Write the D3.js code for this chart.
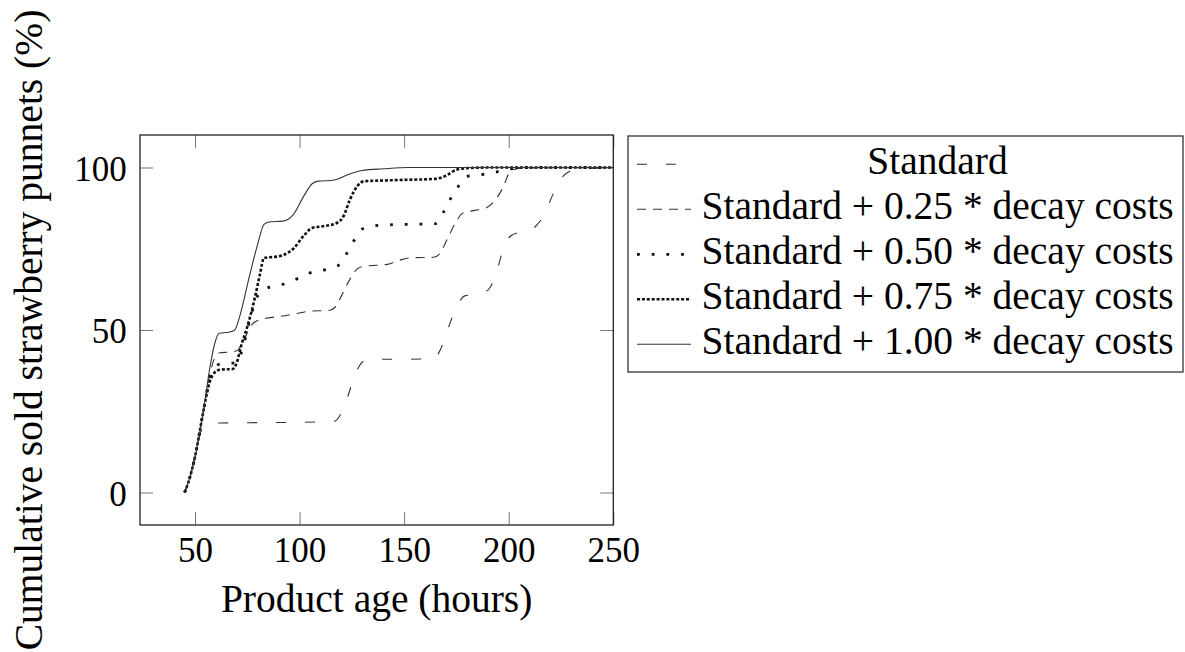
<!DOCTYPE html>
<html>
<head>
<meta charset="utf-8">
<script src="https://cdn.jsdelivr.net/npm/d3@7"></script>
<style>
  html, body { margin: 0; padding: 0; background: #fff; }
  svg { display: block; }
</style>
</head>
<body>
<svg id="chart" width="1185" height="652"></svg>
<script>
// ---------------- data (hours, cumulative %) ----------------
const standard = [
  [45,0],[47,3.5],[50,11],[53,19],[56,21],[62,21.4],[80,21.5],[100,21.6],[114,21.8],[117,22],[120,24.5],[123,29.5],
  [127,37],[131,40.5],[137,41],[150,41],[164,41.2],[167,43.5],[171,50.5],[175,57],[179,60.5],[185,61],[188,61.5],
  [191,63],[194,67.5],[197,74],[201,79],[205,80],[209,80.2],[213,82],[217,85.5],[221,91.5],[225,96.5],[229,98.8],
  [235,99.5],[250,100]
];
const decay025 = [
  [45,0],[47,3.5],[50,11],[54,25],[57,36],[59.5,41.5],[62,43],[66,43.2],[70,43.6],[73,46.5],[77,51.5],[81,53.2],
  [86,53.8],[91,54.2],[98,55],[105,55.8],[114,56],[117,57],[120,60.5],[124,65.5],[128,69],[132,69.7],[137,69.9],
  [142,70.2],[148,71.5],[153,72.2],[164,72.4],[167,73.5],[171,78.5],[175,83.5],[178,86],[184,86.8],[189,87.5],
  [193,89.5],[197,93.5],[201,99],[206,99.8],[250,100]
];
const decay050 = [
  [45,0],[47,3.5],[50,11],[54,25],[57,35],[59.5,38.5],[62,39.5],[70,40],[73,45],[77,55],[80,60.5],[86,63.3],
  [93,64.2],[99,65.8],[106,67.8],[112,68.5],[118,69.6],[122,73],[126,77.5],[130,81.1],[136,82.1],[150,82.5],
  [165,82.7],[169,86.5],[172,90.2],[176,94.3],[180,97.3],[187,97.8],[194,98.6],[200,99.5],[210,100],[250,100]
];
const decay075 = [
  [45,0],[47,3.5],[50,11],[54,25],[57,34],[59.5,37],[62,37.8],[68,38],[70,40],[72,45],[75,51],[79,61],[81,67],
  [83,72.2],[88,72.5],[92,73],[97,75],[102,79],[106,81.4],[112,82],[118,83],[121,85],[124,90],[127.5,94.2],
  [131,95.8],[140,96],[150,96.2],[165,96.5],[170,97.5],[175,99.3],[180,99.8],[190,100],[250,100]
];
const decay100 = [
  [45,0],[47,3.5],[50,11],[54,25],[57,38],[59.5,46],[61.5,49],[66,49.3],[69,50],[71.5,54.5],[76,66.5],[80,76.5],
  [83,82.5],[86,83.3],[92,83.5],[97,85.5],[102,91.2],[106,95],[109,95.8],[115,96],[118,96.4],[123,97.8],
  [130,99.1],[140,99.6],[152,100],[250,100]
];
const seriesLabels = [
  "Standard",
  "Standard + 0.25 * decay costs",
  "Standard + 0.50 * decay costs",
  "Standard + 0.75 * decay costs",
  "Standard + 1.00 * decay costs"
];
const xTicks = [50, 100, 150, 200, 250];
const yTicks = [0, 50, 100];
const xLabel = "Product age (hours)";
const yLabel = "Cumulative sold strawberry punnets (%)";

// ---------------- layout / styles ----------------
const plot = { left: 140, right: 613.3, top: 135, bottom: 525 };
const styles = [
  { width: 1.1, dash: "10,19", color: "#333" },
  { width: 1.1, dash: "9,7",   color: "#333" },
  { width: 2.8, dash: "2.8,11.9", color: "#111" },
  { width: 2.6, dash: "3,1.9", color: "#111" },
  { width: 1.1, dash: null,    color: "#333" }
];
const serif = "'Liberation Serif', 'Times New Roman', serif";

const svg = d3.select("#chart");
const x = d3.scaleLinear().domain([23.7, 250]).range([plot.left, plot.right]);
const y = d3.scaleLinear().domain([-10, 110]).range([plot.bottom, plot.top]);

// axes (inward ticks on all four sides)
const tickLen = 13;
const gB = svg.append("g").attr("transform", `translate(0,${plot.bottom})`)
  .call(d3.axisBottom(x).tickValues(xTicks).tickSize(-tickLen).tickSizeOuter(0).tickPadding(12));
const gT = svg.append("g").attr("transform", `translate(0,${plot.top})`)
  .call(d3.axisTop(x).tickValues(xTicks).tickSize(-tickLen).tickSizeOuter(0).tickFormat(""));
const gL = svg.append("g").attr("transform", `translate(${plot.left},0)`)
  .call(d3.axisLeft(y).tickValues(yTicks).tickSize(-tickLen).tickSizeOuter(0).tickPadding(13.3));
const gR = svg.append("g").attr("transform", `translate(${plot.right},0)`)
  .call(d3.axisRight(y).tickValues(yTicks).tickSize(-tickLen).tickSizeOuter(0).tickFormat(""));

[gB, gT, gL, gR].forEach(g => {
  g.select(".domain").remove();
  g.selectAll(".tick line").attr("stroke", "#777").attr("stroke-width", 1);
  g.selectAll(".tick text").attr("fill", "#000")
    .style("font-family", serif).style("font-size", "35px");
});
gL.selectAll(".tick text").attr("dy", "0.36em");

// series lines
const line = d3.line().x(d => x(d[0])).y(d => y(d[1])).curve(d3.curveMonotoneX);
const allSeries = [standard, decay025, decay050, decay075, decay100];
allSeries.forEach((s, i) => {
  const st = styles[i];
  const p = svg.append("path").datum(s)
    .attr("d", line)
    .attr("fill", "none")
    .attr("stroke", st.color)
    .attr("stroke-width", st.width)
    .attr("stroke-dasharray", st.dash)
    .attr("stroke-linejoin", "round");
  if (i === 0) {
    // align dash phase so a dash begins where the first plateau dash starts (x ≈ 61 h)
    const node = p.node();
    const total = node.getTotalLength();
    const targetX = x(61);
    let lo = 0, hi = total;
    for (let k = 0; k < 40; k++) {
      const mid = (lo + hi) / 2;
      if (node.getPointAtLength(mid).x < targetX) lo = mid; else hi = mid;
    }
    const period = 29;
    p.attr("stroke-dashoffset", (period - (lo % period)) % period);
  }
});

// frame
svg.append("rect")
  .attr("x", plot.left).attr("y", plot.top)
  .attr("width", plot.right - plot.left).attr("height", plot.bottom - plot.top)
  .attr("fill", "none").attr("stroke", "#222").attr("stroke-width", 1.3);

// axis labels
svg.append("text")
  .attr("x", (plot.left + plot.right) / 2).attr("y", 611.7)
  .attr("text-anchor", "middle")
  .style("font-family", serif).style("font-size", "39.5px")
  .text(xLabel);
svg.append("text")
  .attr("transform", `translate(42,330) rotate(-90)`)
  .attr("text-anchor", "middle")
  .style("font-family", serif).style("font-size", "39.5px")
  .text(yLabel);

// legend
const lg = { left: 628, top: 136, right: 1183, bottom: 372 };
svg.append("rect")
  .attr("x", lg.left).attr("y", lg.top)
  .attr("width", lg.right - lg.left).attr("height", lg.bottom - lg.top)
  .attr("fill", "#fff").attr("stroke", "#333").attr("stroke-width", 1.3);
const rowY = d3.scalePoint().domain(d3.range(seriesLabels.length)).range([164.3, 344.3]);
seriesLabels.forEach((lab, i) => {
  const st = styles[i];
  const cy = rowY(i);
  svg.append("line")
    .attr("x1", 637).attr("x2", 691).attr("y1", cy).attr("y2", cy)
    .attr("stroke", st.color).attr("stroke-width", st.width)
    .attr("stroke-dasharray", st.dash);
  svg.append("text")
    .attr("x", 937.5).attr("y", cy + 10)
    .attr("text-anchor", "middle")
    .style("font-family", serif).style("font-size", "39.5px")
    .text(lab);
});
</script>
</body>
</html>
